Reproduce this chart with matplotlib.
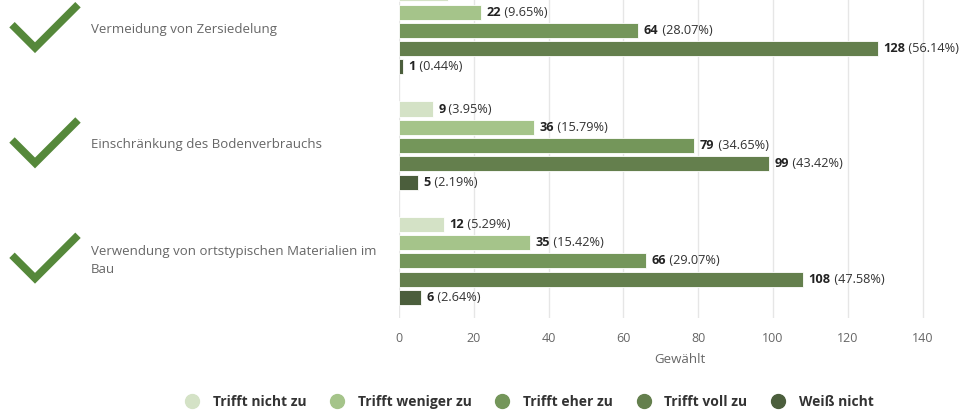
import matplotlib.pyplot as plt
import numpy as np
from matplotlib.lines import Line2D

plt.rcParams['font.family'] = ['Open Sans', 'DejaVu Sans']

questions = ["Vermeidung von Zersiedelung",
             "Einschränkung des Bodenverbrauchs",
             "Verwendung von ortstypischen Materialien im\nBau"]
answers = ["Trifft nicht zu", "Trifft weniger zu", "Trifft eher zu",
           "Trifft voll zu", "Weiß nicht"]
counts = [[13, 22, 64, 128, 1],
          [9, 36, 79, 99, 5],
          [12, 35, 66, 108, 6]]
percents = [["5.70%", "9.65%", "28.07%", "56.14%", "0.44%"],
            ["3.95%", "15.79%", "34.65%", "43.42%", "2.19%"],
            ["5.29%", "15.42%", "29.07%", "47.58%", "2.64%"]]
colors = ["#d4e2c6", "#a5c48a", "#74965a", "#647f4d", "#4b5e3c"]

W, H = 963, 413
fig = plt.figure(figsize=(W / 100, H / 100), dpi=100)
ax = fig.add_axes([399 / W, 1 - 318 / H, 561 / W, 318 / H])

group_step = 6.3
bar_px = 18.3
for g, q in enumerate(questions):
    for j in range(len(answers)):
        y = g * group_step + j
        v = counts[g][j]
        ax.barh(y, v, height=0.82, color=colors[j], edgecolor="white",
                linewidth=0.6, zorder=2)
        t1 = ax.annotate("%d" % v, (v, y), xytext=(4, 0), textcoords="offset points",
                         va="center", ha="left", fontsize=9.2, color="#222222",
                         fontweight="bold", annotation_clip=False)
        ax.annotate(" (%s)" % percents[g][j], xy=(1, 0.5), xycoords=t1,
                    va="center", ha="left", fontsize=9.2, color="#333333",
                    annotation_clip=False)

    # question label and check mark (figure pixels)
    top = g * group_step * bar_px - 6.3
    fig.text(91 / W, 1 - (top + 36) / H, q, fontsize=9.5, color="#666666",
             va="center", ha="left", linespacing=1.5)
    xs = np.array([12, 35, 78]) / W
    ys = 1 - np.array([top + 31, top + 54, top + 11]) / H
    fig.add_artist(Line2D(xs, ys, color="#55883a", linewidth=5.5,
                          solid_joinstyle="miter", solid_capstyle="butt"))

ax.set_xlim(0, 150)
ax.set_ylim(17.72, 0.344)
ax.set_xticks(np.arange(0, 141, 20))
ax.set_yticks([])
ax.grid(axis="x", color="#e6e6e6", linewidth=1, zorder=0)
ax.set_axisbelow(True)
for s in ax.spines.values():
    s.set_visible(False)
ax.tick_params(axis="x", length=0, pad=10, labelsize=9, labelcolor="#666666")
ax.set_xlabel("Gewählt", fontsize=9.5, color="#666666", labelpad=6)

handles = [Line2D([], [], marker="o", linestyle="", markersize=10, color=c) for c in colors]
leg = fig.legend(handles, answers, loc="center", bbox_to_anchor=(526 / W, 1 - 402 / H),
                 ncol=5, frameon=False, handletextpad=0.5, columnspacing=1.2,
                 prop={"weight": "bold", "size": 10})
for t in leg.get_texts():
    t.set_color("#333333")

fig.savefig("out.png", dpi=100)
